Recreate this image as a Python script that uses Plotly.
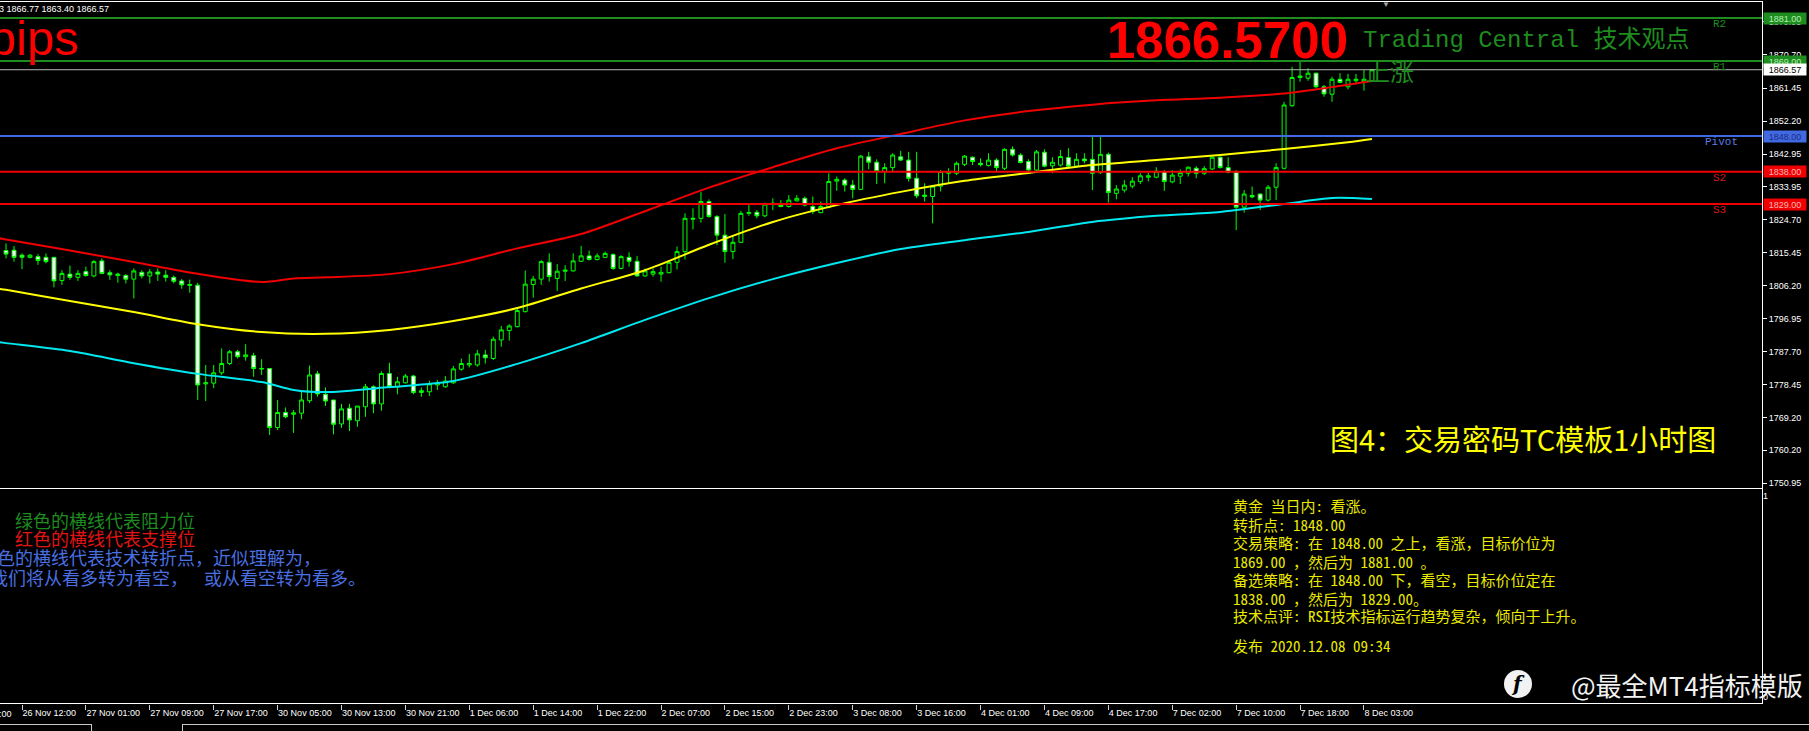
import plotly.graph_objects as go

W, H = 1809, 731

# ---------------- data ----------------
opens = [1816.0, 1816.1, 1814.7, 1814.1, 1814.3, 1814.1, 1814.1, 1807.6, 1809.4, 1808.5,
         1810.1, 1808.9, 1813.1, 1809.8, 1809.0, 1809.0, 1808.0, 1809.9, 1808.9, 1810.0,
         1809.1, 1808.5, 1807.5, 1806.5, 1806.3, 1778.7, 1778.9, 1781.8, 1784.4, 1787.7,
         1786.3, 1786.6, 1783.0, 1783.0, 1766.5, 1770.7, 1770.2, 1770.5, 1774.0, 1781.5,
         1775.8, 1774.2, 1767.5, 1771.9, 1768.4, 1772.3, 1777.9, 1773.1, 1781.6, 1777.9,
         1779.0, 1780.9, 1776.3, 1776.5, 1778.4, 1777.9, 1779.0, 1782.8, 1784.0, 1784.0,
         1786.8, 1785.8, 1791.0, 1793.6, 1794.7, 1798.9, 1806.5, 1808.0, 1812.7, 1808.2,
         1810.2, 1810.3, 1813.0, 1814.5, 1813.5, 1814.1, 1814.9, 1811.0, 1814.1, 1813.0,
         1808.9, 1809.4, 1809.4, 1809.8, 1812.7, 1815.7, 1825.0, 1825.0, 1829.7, 1825.5,
         1820.3, 1815.7, 1818.3, 1826.4, 1826.7, 1825.7, 1829.0, 1829.0, 1828.3, 1829.9,
         1830.6, 1828.3, 1826.6, 1828.1, 1835.4, 1835.7, 1834.3, 1833.1, 1842.2, 1840.7,
         1838.1, 1839.2, 1842.2, 1841.3, 1836.2, 1831.1, 1831.1, 1834.0, 1837.6, 1837.6,
         1840.1, 1842.1, 1840.4, 1839.8, 1841.3, 1839.0, 1844.3, 1842.7, 1840.9, 1838.5,
         1843.5, 1839.7, 1839.9, 1842.0, 1839.6, 1841.6, 1841.5, 1837.8, 1842.9, 1832.0,
         1832.9, 1834.0, 1835.3, 1836.5, 1836.5, 1838.1, 1835.2, 1836.8, 1837.6, 1839.0,
         1837.6, 1838.8, 1842.1, 1839.2, 1837.9, 1828.1, 1831.4, 1831.8, 1830.1, 1833.7,
         1839.0, 1856.5, 1864.4, 1864.2, 1865.6, 1861.8, 1859.7, 1863.9, 1861.8, 1863.5,
         1863.2, 1863.5]
highs = [1818.0, 1817.3, 1815.2, 1815.0, 1815.0, 1815.2, 1814.2, 1810.5, 1811.8, 1810.5,
         1811.5, 1813.3, 1813.8, 1810.5, 1809.8, 1809.4, 1811.0, 1810.5, 1810.8, 1811.0,
         1810.5, 1809.0, 1808.0, 1807.9, 1807.0, 1784.0, 1784.0, 1788.6, 1788.2, 1788.2,
         1789.8, 1787.4, 1785.6, 1783.0, 1774.2, 1772.1, 1771.4, 1776.8, 1783.8, 1782.3,
         1777.7, 1774.2, 1773.1, 1773.1, 1772.5, 1778.7, 1778.3, 1782.2, 1784.6, 1780.7,
         1781.5, 1781.2, 1777.7, 1779.6, 1779.8, 1780.9, 1783.7, 1785.8, 1787.1, 1788.2,
         1788.2, 1791.9, 1794.9, 1795.4, 1799.8, 1810.4, 1808.9, 1813.3, 1815.2, 1812.2,
         1811.9, 1815.2, 1817.3, 1816.0, 1815.2, 1815.7, 1815.2, 1814.7, 1815.5, 1814.5,
         1811.0, 1811.0, 1811.5, 1813.3, 1817.1, 1826.4, 1827.8, 1832.4, 1830.3, 1825.9,
         1826.2, 1820.1, 1827.1, 1829.0, 1827.3, 1829.4, 1830.6, 1830.1, 1831.5, 1831.5,
         1831.1, 1831.1, 1829.7, 1837.6, 1836.7, 1836.2, 1835.7, 1842.7, 1843.6, 1841.5,
         1840.4, 1843.2, 1843.9, 1843.6, 1843.6, 1834.8, 1834.3, 1838.5, 1839.0, 1840.9,
         1842.7, 1842.3, 1841.8, 1843.2, 1841.8, 1844.6, 1845.1, 1843.2, 1841.5, 1844.1,
         1844.3, 1842.1, 1844.1, 1844.6, 1843.2, 1843.2, 1847.9, 1848.0, 1843.4, 1834.3,
         1835.7, 1836.5, 1837.6, 1837.8, 1839.3, 1838.5, 1838.5, 1838.7, 1839.5, 1839.6,
         1839.6, 1842.4, 1842.3, 1842.1, 1838.5, 1832.9, 1833.9, 1832.0, 1834.3, 1840.4,
         1857.6, 1867.4, 1868.8, 1867.0, 1865.7, 1862.3, 1864.6, 1865.6, 1865.4, 1865.4,
         1866.5, 1866.77]
lows = [1813.8, 1812.9, 1810.8, 1813.8, 1812.0, 1812.4, 1805.7, 1806.4, 1807.8, 1807.5,
        1808.7, 1808.5, 1809.4, 1807.8, 1807.0, 1806.8, 1802.6, 1808.2, 1806.8, 1807.5,
        1807.3, 1806.8, 1805.3, 1804.2, 1774.2, 1773.9, 1777.5, 1781.2, 1784.0, 1785.8,
        1785.2, 1780.7, 1781.2, 1764.4, 1765.8, 1769.1, 1765.0, 1768.8, 1773.3, 1775.1,
        1772.5, 1764.6, 1766.4, 1765.5, 1766.7, 1769.5, 1770.5, 1771.2, 1777.4, 1775.8,
        1778.8, 1775.8, 1775.1, 1775.3, 1777.0, 1777.6, 1778.7, 1782.4, 1783.3, 1783.5,
        1784.4, 1785.4, 1789.1, 1790.8, 1794.5, 1798.7, 1802.8, 1806.4, 1807.3, 1804.7,
        1807.5, 1810.1, 1812.8, 1813.2, 1813.2, 1813.9, 1810.6, 1810.7, 1811.5, 1808.7,
        1808.7, 1808.7, 1807.3, 1809.6, 1810.7, 1813.5, 1821.9, 1823.8, 1825.2, 1817.5,
        1812.6, 1813.6, 1818.2, 1825.7, 1825.0, 1825.3, 1827.3, 1828.1, 1828.0, 1829.7,
        1828.3, 1826.2, 1826.4, 1827.8, 1832.7, 1832.5, 1830.6, 1832.9, 1838.7, 1834.6,
        1834.8, 1837.8, 1841.0, 1835.3, 1830.6, 1829.7, 1823.6, 1832.5, 1834.8, 1837.1,
        1839.6, 1839.9, 1839.5, 1839.5, 1838.1, 1838.5, 1842.3, 1840.4, 1838.1, 1838.1,
        1839.3, 1837.6, 1839.5, 1839.3, 1839.3, 1840.4, 1832.9, 1837.4, 1829.4, 1830.3,
        1832.2, 1833.4, 1834.6, 1835.3, 1836.2, 1832.7, 1834.8, 1834.6, 1836.7, 1836.2,
        1837.1, 1838.5, 1838.9, 1837.6, 1821.7, 1826.6, 1830.6, 1827.3, 1829.7, 1830.1,
        1838.7, 1856.2, 1863.2, 1863.5, 1861.4, 1859.0, 1857.6, 1862.8, 1861.1, 1862.8,
        1860.7, 1863.40]
closes = [1815.0, 1814.1, 1814.1, 1814.7, 1813.2, 1812.9, 1807.5, 1809.6, 1808.5, 1809.6,
          1809.0, 1812.9, 1809.6, 1809.2, 1809.4, 1808.0, 1810.3, 1808.9, 1810.0, 1809.4,
          1808.5, 1807.4, 1806.4, 1806.3, 1778.4, 1779.0, 1781.8, 1784.4, 1787.7, 1786.3,
          1786.8, 1783.0, 1782.9, 1766.5, 1770.7, 1769.5, 1770.6, 1774.2, 1781.2, 1775.9,
          1773.9, 1767.4, 1771.7, 1768.6, 1772.5, 1777.9, 1773.1, 1781.6, 1777.9, 1779.3,
          1780.9, 1776.3, 1776.8, 1778.7, 1778.9, 1779.5, 1782.9, 1784.4, 1784.4, 1787.1,
          1786.0, 1791.2, 1793.8, 1794.9, 1799.2, 1806.6, 1808.0, 1812.9, 1808.7, 1810.2,
          1810.5, 1813.1, 1814.5, 1813.5, 1814.5, 1815.2, 1811.0, 1814.3, 1813.0, 1808.9,
          1810.3, 1810.1, 1809.9, 1812.7, 1815.7, 1825.0, 1824.8, 1829.7, 1825.5, 1820.3,
          1815.7, 1818.3, 1826.4, 1826.6, 1825.7, 1829.0, 1829.2, 1828.3, 1830.1, 1830.6,
          1828.7, 1826.9, 1828.3, 1835.3, 1835.9, 1834.3, 1833.1, 1842.4, 1840.7, 1838.1,
          1839.2, 1842.7, 1841.3, 1836.2, 1831.3, 1831.5, 1834.0, 1838.1, 1838.1, 1840.4,
          1842.4, 1840.9, 1840.0, 1841.3, 1839.2, 1844.3, 1842.7, 1840.6, 1838.5, 1843.6,
          1839.6, 1840.7, 1842.3, 1839.6, 1841.5, 1841.1, 1837.6, 1842.9, 1832.2, 1833.2,
          1834.3, 1835.4, 1836.9, 1836.9, 1838.2, 1835.3, 1837.1, 1837.8, 1839.3, 1837.6,
          1838.9, 1842.1, 1839.2, 1837.9, 1828.1, 1831.8, 1831.0, 1830.1, 1833.7, 1839.2,
          1856.7, 1864.4, 1864.8, 1865.6, 1861.8, 1859.8, 1863.9, 1863.0, 1863.9, 1863.9,
          1863.9, 1866.57]
bars = list(range(len(closes)))

upper_bars = [-1, 0, 8, 16, 24, 32, 36, 40, 48, 56, 64, 72, 80, 88, 96, 104, 112, 120, 128,
              136, 144, 152, 160, 166, 171]
upper_band = [1819.5, 1819.1, 1816.0, 1812.8, 1809.5, 1807.2, 1808.2, 1808.5, 1809.4, 1812.2,
              1816.6, 1820.6, 1827.0, 1833.6, 1839.3, 1844.6, 1848.6, 1852.4, 1855.0, 1856.8,
              1858.0, 1858.7, 1859.9, 1861.7, 1863.4]
middle_bars = [-1, 0, 8, 16, 24, 32, 40, 48, 56, 64, 72, 80, 88, 96, 104, 112, 120, 128, 136,
               144, 152, 160, 168, 171]
middle_band = [1805.3, 1805.0, 1801.9, 1798.8, 1795.4, 1793.2, 1792.7, 1793.8, 1796.3, 1799.9,
               1805.4, 1810.5, 1817.6, 1824.0, 1828.7, 1832.4, 1835.5, 1837.7, 1839.9, 1841.3,
               1842.7, 1844.4, 1846.3, 1847.2]
lower_bars = [-1, 0, 8, 16, 24, 32, 36, 40, 48, 56, 64, 72, 80, 88, 96, 104, 112, 120, 128,
              136, 144, 152, 160, 166, 171]
lower_band = [1790.4, 1790.1, 1787.9, 1784.5, 1781.5, 1779.2, 1777.0, 1776.4, 1777.8, 1779.5,
              1784.3, 1790.1, 1796.6, 1802.7, 1808.0, 1812.5, 1816.4, 1818.9, 1821.2, 1824.0,
              1825.7, 1826.8, 1829.0, 1830.7, 1830.4]

time_tick_bars = [2, 10, 18, 26, 34, 42, 50, 58, 66, 74, 82, 90, 98, 106, 114, 122, 130,
                  138, 146, 154, 162, 170]
time_tick_labels = ["26 Nov 12:00", "27 Nov 01:00", "27 Nov 09:00", "27 Nov 17:00",
                    "30 Nov 05:00", "30 Nov 13:00", "30 Nov 21:00", "1 Dec 06:00",
                    "1 Dec 14:00", "1 Dec 22:00", "2 Dec 07:00", "2 Dec 15:00",
                    "2 Dec 23:00", "3 Dec 08:00", "3 Dec 16:00", "4 Dec 01:00",
                    "4 Dec 09:00", "4 Dec 17:00", "7 Dec 02:00", "7 Dec 10:00",
                    "7 Dec 18:00", "8 Dec 03:00"]
clipped_time_label = "26 Nov 04:00"

price_tick_values = [1879.95, 1870.70, 1861.45, 1852.20, 1842.95, 1833.95, 1824.70, 1815.45,
                     1806.20, 1796.95, 1787.70, 1778.45, 1769.20, 1760.20, 1750.95]
price_tick_labels = ["1879.95", "1870.70", "1861.45", "1852.20", "1842.95", "1833.95",
                     "1824.70", "1815.45", "1806.20", "1796.95", "1787.70", "1778.45",
                     "1769.20", "1760.20", "1750.95"]

level_names = ["R2", "R1", "Pivot", "S2", "S3"]
level_values = [1881.00, 1869.00, 1848.00, 1838.00, 1829.00]
level_labels = ["1881.00", "1869.00", "1848.00", "1838.00", "1829.00"]
level_colors = ["#1E8C1E", "#1E8C1E", "#4169E1", "#F00000", "#F00000"]
level_text_colors = ["#B4F0B4", "#B4F0B4", "#1C2C86", "#FFB4B4", "#FFB4B4"]
level_name_colors = ["#1E8C1E", "#1E8C1E", "#5A7AE6", "#D81818", "#D81818"]

last_price = 1866.57
last_price_label = "1866.57"
ohlc_text = "3 1866.77 1863.40 1866.57"
big_price_text = "1866.5700"
header_text = "Trading Central 技术观点"
trend_text = "上涨"
pips_text = "pips"
title_text = "图4：交易密码TC模板1小时图"
watermark_text = "@最全MT4指标模版"

legend_lines = ["绿色的横线代表阻力位", "红色的横线代表支撑位",
                "蓝色的横线代表技术转折点，近似理解为，",
                "我们将从看多转为看空，", "或从看空转为看多。"]
legend_colors = ["#1E8C1E", "#E01414", "#4A6FE0", "#4A6FE0", "#4A6FE0"]

analysis_lines = ["黄金 当日内: 看涨。",
                  "转折点: 1848.00",
                  "交易策略: 在 1848.00 之上，看涨，目标价位为",
                  "1869.00 ，然后为 1881.00 。",
                  "备选策略: 在 1848.00 下，看空，目标价位定在",
                  "1838.00 ，然后为 1829.00。",
                  "技术点评: RSI技术指标运行趋势复杂，倾向于上升。",
                  "发布 2020.12.08 09:34"]

# ---------------- geometry ----------------
X_RANGE = [-0.754, 219.83]
Y_RANGE = [1749.86, 1884.95]
PLOT_RIGHT = 1762


def fx(p):
    return p / W


def fy(p):
    return 1 - p / H


SANS = "Liberation Sans, Arial, sans-serif"
MONO = "Liberation Mono, Noto Sans CJK SC, monospace"
CJK = "Noto Sans CJK SC, sans-serif"
CJK_MONO = "Noto Sans Mono CJK SC, Noto Sans CJK SC, monospace"

fig = go.Figure()

fig.add_trace(go.Candlestick(
    x=bars, open=opens, high=highs, low=lows, close=closes,
    increasing=dict(line=dict(color="#00FF00", width=1), fillcolor="#000000"),
    decreasing=dict(line=dict(color="#00FF00", width=1), fillcolor="#FFFFFF"),
    whiskerwidth=0, hoverinfo="skip", xaxis="x", yaxis="y"))

for bx, by, col in [(upper_bars, upper_band, "#F00000"),
                    (middle_bars, middle_band, "#FFFF00"),
                    (lower_bars, lower_band, "#00E8F0")]:
    fig.add_trace(go.Scatter(x=bx, y=by, mode="lines",
                             line=dict(color=col, width=2, shape="spline", smoothing=0.8),
                             hoverinfo="skip", xaxis="x", yaxis="y"))

fig.add_trace(go.Scatter(x=[0], y=[0.5], mode="markers", marker=dict(opacity=0),
                         hoverinfo="skip", xaxis="x2", yaxis="y2"))

shapes = []
annotations = []

# current price line
shapes.append(dict(type="line", xref="x domain", x0=0, x1=1, yref="y",
                   y0=last_price, y1=last_price, line=dict(color="#B8B8B8", width=1)))
# level lines, names and price boxes
for name, val, lab, col, tcol, ncol in zip(level_names, level_values, level_labels,
                                            level_colors, level_text_colors, level_name_colors):
    shapes.append(dict(type="line", xref="x domain", x0=0, x1=1, yref="y",
                       y0=val, y1=val, line=dict(color=col, width=2)))
    annotations.append(dict(text=name, xref="paper", x=fx(1703 if name == "Pivot" else 1711),
                            xanchor="left", yref="y", y=val, yanchor="middle", yshift=-6,
                            showarrow=False, font=dict(family=MONO, size=11, color=ncol)))
    annotations.append(dict(text=lab, xref="paper", x=fx(1763), xanchor="left",
                            yref="y", y=val, yanchor="middle", showarrow=False,
                            width=42, height=11, bgcolor=col, borderpad=0,
                            font=dict(family=SANS, size=9, color=tcol)))
annotations.append(dict(text=last_price_label, xref="paper", x=fx(1763), xanchor="left",
                        yref="y", y=last_price, yanchor="middle", showarrow=False,
                        width=42, height=11, bgcolor="#FFFFFF", borderpad=0,
                        font=dict(family=SANS, size=9, color="#000000")))


# frame lines
def hline(y, x0, x1, color="#FFFFFF", w=1):
    shapes.append(dict(type="line", xref="paper", yref="paper", x0=fx(x0), x1=fx(x1),
                       y0=fy(y), y1=fy(y), line=dict(color=color, width=w)))


def vline(x, y0, y1, color="#FFFFFF", w=1):
    shapes.append(dict(type="line", xref="paper", yref="paper", x0=fx(x), x1=fx(x),
                       y0=fy(y0), y1=fy(y1), line=dict(color=color, width=w)))


hline(1.5, 0, PLOT_RIGHT)
vline(PLOT_RIGHT + 0.5, 1, 704)
hline(488.5, 0, PLOT_RIGHT)
hline(703.5, 0, PLOT_RIGHT)
# bottom tab bar
hline(724.5, 0, 91, "#C8C8C8")
hline(724.5, 182, W, "#C8C8C8")
vline(91.5, 724, 731, "#C8C8C8")
vline(182.5, 724, 731, "#C8C8C8")

# texts in main window
annotations += [
    dict(text=ohlc_text, xref="paper", yref="paper", x=fx(-3), y=fy(9), xanchor="left",
         yanchor="middle", showarrow=False, font=dict(family=SANS, size=9, color="#FFFFFF")),
    dict(text=pips_text, xref="paper", yref="paper", x=fx(-13), y=fy(38), xanchor="left",
         yanchor="middle", showarrow=False, font=dict(family=SANS, size=49, color="#FF0000")),
    dict(text="<b>" + big_price_text + "</b>", xref="paper", yref="paper", x=fx(1105),
         y=fy(40), xanchor="left", yanchor="middle", showarrow=False,
         font=dict(family=SANS, size=51, color="#FF0000")),
    dict(text=header_text, xref="paper", yref="paper", x=fx(1361), y=fy(40),
         xanchor="left", yanchor="middle", showarrow=False,
         font=dict(family=MONO, size=24, color="#1E8C1E")),
    dict(text=trend_text, xref="paper", yref="paper", x=fx(1364), y=fy(71),
         xanchor="left", yanchor="middle", showarrow=False,
         font=dict(family=CJK, size=24, color="#1E8C1E")),
    dict(text="▼", xref="paper", yref="paper", x=fx(1386), y=fy(5), xanchor="center",
         yanchor="middle", showarrow=False, font=dict(family=SANS, size=8, color="#A0A0A0")),
    dict(text=title_text, xref="paper", yref="paper", x=fx(1328), y=fy(438),
         xanchor="left", yanchor="middle", showarrow=False,
         font=dict(family=CJK, size=29, color="#FFFF00")),
    dict(text=clipped_time_label, xref="paper", yref="paper", x=fx(14), y=fy(714),
         xanchor="right", yanchor="middle", showarrow=False,
         font=dict(family=SANS, size=9, color="#FFFFFF")),
]

# legend text in sub window
legend_pos = [(13, 520), (13, 538), (-23, 557), (-12, 577), (202, 577)]
for txt, col, (lx, ly) in zip(legend_lines, legend_colors, legend_pos):
    annotations.append(dict(text=txt, xref="paper", yref="paper", x=fx(lx), y=fy(ly),
                            xanchor="left", yanchor="middle", showarrow=False,
                            font=dict(family=CJK, size=18, color=col)))

analysis_y = [505, 524, 542, 561, 579, 598, 615, 645]
for txt, ay in zip(analysis_lines, analysis_y):
    annotations.append(dict(text=txt, xref="paper", yref="paper", x=fx(1231), y=fy(ay),
                            xanchor="left", yanchor="middle", showarrow=False,
                            font=dict(family=CJK_MONO, size=15, color="#EAEA00")))

# watermark
shapes.append(dict(type="circle", xref="paper", yref="paper", x0=fx(1504), x1=fx(1532),
                   y0=fy(698), y1=fy(670), fillcolor="#F2F2F2", line=dict(width=0)))
annotations.append(dict(text="<b><i>f</i></b>", xref="paper", yref="paper", x=fx(1518),
                        y=fy(684), xanchor="center", yanchor="middle", showarrow=False,
                        font=dict(family="DejaVu Serif, serif", size=20, color="#000000")))
annotations.append(dict(text=watermark_text, xref="paper", yref="paper", x=fx(1569),
                        y=fy(684), xanchor="left", yanchor="middle", showarrow=False,
                        font=dict(family=CJK, size=26, color="#F2F2F2")))

axis_font = dict(family=SANS, size=9, color="#FFFFFF")
fig.update_layout(
    width=W, height=H, autosize=False,
    margin=dict(l=0, r=0, t=0, b=0, pad=0),
    paper_bgcolor="#000000", plot_bgcolor="#000000",
    showlegend=False, hovermode=False,
    xaxis=dict(domain=[0, fx(PLOT_RIGHT)], range=X_RANGE, anchor="y", showticklabels=False,
               showgrid=False, zeroline=False, showline=False, ticks="",
               rangeslider=dict(visible=False), fixedrange=True),
    yaxis=dict(domain=[fy(487), fy(4)], range=Y_RANGE, anchor="x", side="right",
               tickmode="array", tickvals=price_tick_values, ticktext=price_tick_labels,
               ticks="outside", ticklen=4, tickwidth=1, tickcolor="#FFFFFF",
               tickfont=axis_font, showgrid=False, zeroline=False, showline=False,
               fixedrange=True),
    xaxis2=dict(domain=[0, fx(PLOT_RIGHT)], range=X_RANGE, anchor="y2",
                tickmode="array", tickvals=time_tick_bars, ticktext=time_tick_labels,
                ticks="outside", ticklen=5, tickwidth=1, tickcolor="#D0D0D0",
                ticklabelposition="outside right", tickfont=axis_font,
                showgrid=False, zeroline=False, showline=False, fixedrange=True),
    yaxis2=dict(domain=[fy(704), fy(489)], range=[-0.0348, 1.0348], anchor="x2",
                side="right", tickmode="array", tickvals=[0, 1], ticktext=["0", "1"],
                ticks="", tickfont=axis_font, showgrid=False, zeroline=False,
                showline=False, fixedrange=True),
    shapes=shapes,
    annotations=annotations,
)

fig.write_html("out.html", config={"displayModeBar": False},
               post_script="document.body.style.margin='0';")
